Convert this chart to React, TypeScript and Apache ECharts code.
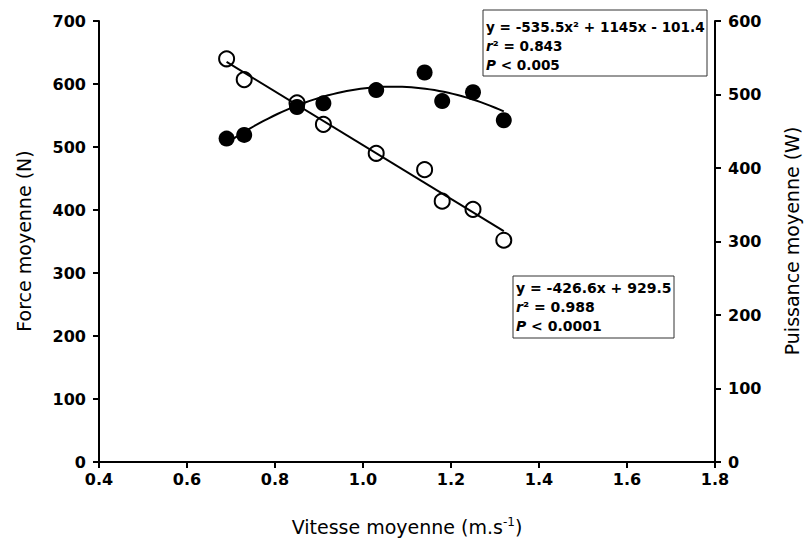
import React, { useEffect, useRef } from "react";
import * as echarts from "echarts";

// ---- Data ----
const xVitesse = [0.69, 0.73, 0.85, 0.91, 1.03, 1.14, 1.18, 1.25, 1.32];
const forceN = [640, 607, 570, 536, 490, 464, 414, 401, 352];
const puissanceW = [440, 445, 483, 488, 506, 530, 491, 503, 465];

const xTicks = [0.4, 0.6, 0.8, 1.0, 1.2, 1.4, 1.6, 1.8];
const forceTicks = [0, 100, 200, 300, 400, 500, 600, 700];
const powerTicks = [0, 100, 200, 300, 400, 500, 600];

// Regression equations printed on the chart
const linSlope = -426.6;
const linIntercept = 929.5;
const quadA = -535.5;
const quadB = 1145;
const quadC = -101.4;

const topBoxLines = ["y = -535.5x² + 1145x - 101.4", "0.843", "0.005"];
const bottomBoxLines = ["y = -426.6x + 929.5", "0.988", "0.0001"];

const FONT = "DejaVu Sans";

function buildOption() {
  const xMin = Math.min(...xVitesse);
  const xMax = Math.max(...xVitesse);
  const linFit = [xMin, xMax].map((x) => [x, linSlope * x + linIntercept]);
  const quadFit: number[][] = [];
  const steps = 60;
  for (let i = 0; i <= steps; i++) {
    const x = xMin + ((xMax - xMin) * i) / steps;
    quadFit.push([x, quadA * x * x + quadB * x + quadC]);
  }

  const axisLine = { show: true, onZero: false, lineStyle: { color: "#000", width: 2 } };
  const axisTick = { show: true, inside: false, length: 6, lineStyle: { color: "#000", width: 2 } };
  const axisLabelBase = {
    color: "#000",
    fontFamily: FONT,
    fontWeight: "bold" as const,
    fontSize: 16,
  };

  const boxText = (x: number, y: number, text: string, size: number) => ({
    type: "text",
    x,
    y,
    z: 101,
    style: {
      text,
      fontFamily: FONT,
      fontWeight: "bold",
      fontSize: size,
      fill: "#000",
      align: "left",
      verticalAlign: "middle",
      rich: {
        i: { fontFamily: FONT, fontWeight: "bold", fontStyle: "italic", fontSize: size, fill: "#000" },
        b: { fontFamily: FONT, fontWeight: "bold", fontSize: size, fill: "#000" },
      },
    },
  });

  return {
    animation: false,
    backgroundColor: "#fff",
    grid: { left: 99, right: 90, top: 21, bottom: 80, containLabel: false },
    xAxis: {
      type: "value",
      min: xTicks[0],
      max: xTicks[xTicks.length - 1],
      interval: 0.2,
      axisLine,
      axisTick,
      axisLabel: { ...axisLabelBase, margin: 9, formatter: (v: number) => v.toFixed(1) },
      splitLine: { show: false },
    },
    yAxis: [
      {
        type: "value",
        position: "left",
        min: forceTicks[0],
        max: forceTicks[forceTicks.length - 1],
        interval: 100,
        axisLine,
        axisTick,
        axisLabel: { ...axisLabelBase, margin: 13 },
        splitLine: { show: false },
      },
      {
        type: "value",
        position: "right",
        min: powerTicks[0],
        max: powerTicks[powerTicks.length - 1],
        interval: 100,
        axisLine,
        axisTick,
        axisLabel: { ...axisLabelBase, margin: 13 },
        splitLine: { show: false },
      },
    ],
    series: [
      {
        type: "scatter",
        yAxisIndex: 0,
        data: xVitesse.map((x, i) => [x, forceN[i]]),
        symbol: "circle",
        symbolSize: 15,
        itemStyle: { color: "rgba(255,255,255,0)", borderColor: "#000", borderWidth: 2, opacity: 1 },
        z: 2,
        silent: true,
      },
      {
        type: "line",
        yAxisIndex: 0,
        data: linFit,
        showSymbol: false,
        symbol: "none",
        lineStyle: { color: "#000", width: 2 },
        z: 3,
        silent: true,
      },
      {
        type: "line",
        yAxisIndex: 1,
        data: quadFit,
        showSymbol: false,
        symbol: "none",
        lineStyle: { color: "#000", width: 2 },
        z: 3,
        silent: true,
      },
      {
        type: "scatter",
        yAxisIndex: 1,
        data: xVitesse.map((x, i) => [x, puissanceW[i]]),
        symbol: "circle",
        symbolSize: 16,
        itemStyle: { color: "#000", opacity: 1 },
        z: 4,
        silent: true,
      },
    ],
    graphic: [
      {
        type: "text",
        x: 24,
        y: 241,
        rotation: Math.PI / 2,
        style: {
          text: "Force moyenne (N)",
          fontFamily: FONT,
          fontSize: 19,
          fill: "#000",
          align: "center",
          verticalAlign: "middle",
        },
      },
      {
        type: "text",
        x: 792,
        y: 241,
        rotation: Math.PI / 2,
        style: {
          text: "Puissance moyenne (W)",
          fontFamily: FONT,
          fontSize: 19,
          fill: "#000",
          align: "center",
          verticalAlign: "middle",
        },
      },
      {
        type: "text",
        x: 407,
        y: 527,
        style: {
          text: "{a|Vitesse moyenne (m.s}{s|-1}{a|)}",
          align: "center",
          verticalAlign: "middle",
          rich: {
            a: { fontFamily: FONT, fontSize: 19, fill: "#000" },
            s: { fontFamily: FONT, fontSize: 12, fill: "#000", padding: [0, 0, 10, 0] },
          },
        },
      },
      // top annotation box
      {
        type: "rect",
        z: 100,
        shape: { x: 483, y: 10, width: 224, height: 66 },
        style: { fill: "#fff", stroke: "#333", lineWidth: 1 },
      },
      boxText(486, 27, "{b|" + topBoxLines[0] + "}", 13.6),
      boxText(486, 46, "{i|r}{b|² = " + topBoxLines[1] + "}", 13.6),
      boxText(486, 65, "{i|P}{b| < " + topBoxLines[2] + "}", 13.6),
      // bottom annotation box
      {
        type: "rect",
        z: 100,
        shape: { x: 513, y: 276, width: 161, height: 62 },
        style: { fill: "#fff", stroke: "#333", lineWidth: 1 },
      },
      boxText(516, 288, "{b|" + bottomBoxLines[0] + "}", 14),
      boxText(516, 307, "{i|r}{b|² = " + bottomBoxLines[1] + "}", 14),
      boxText(516, 326, "{i|P}{b| < " + bottomBoxLines[2] + "}", 14),
    ],
  };
}

export default function App() {
  const ref = useRef<HTMLDivElement>(null);
  useEffect(() => {
    if (!ref.current) return;
    const chart = echarts.init(ref.current, null, { renderer: "svg" });
    chart.setOption(buildOption() as any);
    return () => chart.dispose();
  }, []);
  return (
    <div
      ref={ref}
      style={{ position: "fixed", left: 0, top: 0, width: 805, height: 542, background: "#fff" }}
    />
  );
}
